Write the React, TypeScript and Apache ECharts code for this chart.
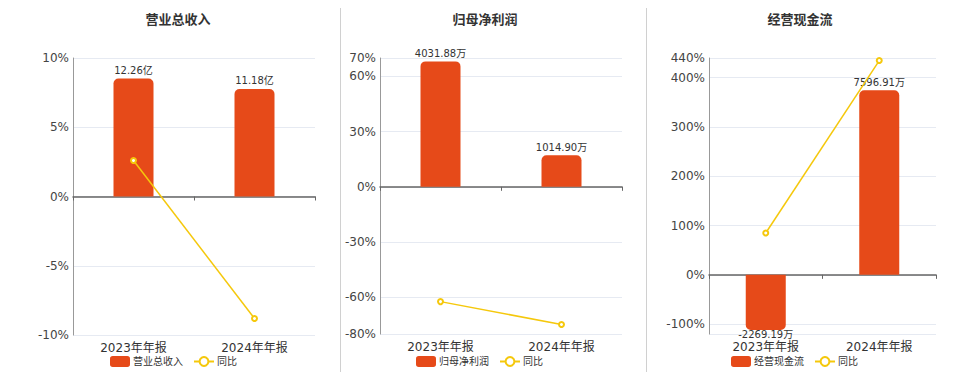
import React, { useEffect, useRef } from "react";
import * as echarts from "echarts";

const categories = ["2023年年报", "2024年年报"];
const titles = ["营业总收入", "归母净利润", "经营现金流"];
const revenueValues = [12.26, 11.18];
const revenueYoy = [2.6, -8.81];
const profitValues = [4031.88, 1014.9];
const profitYoy = [-62.4, -74.83];
const cashValues = [-2269.19, 7596.91];
const cashYoy = [85, 434.78];
const units = ["亿", "万", "万"];
const yoyName = "同比";
const pctTicks1 = [-10, -5, 0, 5, 10];
const pctTicks2 = [-80, -60, -30, 0, 30, 60, 70];
const pctTicks3 = [-120, -100, 0, 100, 200, 300, 400, 440];
const pctLabels3 = [-100, 0, 100, 200, 300, 400, 440];

const BAR = "#E64A19";
const LINE = "#F5C80C";
const FONT = "DejaVu Sans, Noto Sans CJK SC, sans-serif";

export default function App() {
  const ref = useRef<HTMLDivElement>(null);
  useEffect(() => {
    if (!ref.current) return;
    const chart = echarts.init(ref.current, undefined, { renderer: "svg" });

    const panels = [
      { vals: revenueValues, yoy: revenueYoy, barMax: 14.4, barMin: -14.4, pmin: -10, pmax: 10, ticks: pctTicks1, labels: pctTicks1, grid: { left: 73, right: 645, top: 58, bottom: 37 }, cx: 173, legendLeft: 110 },
      { vals: profitValues, yoy: profitYoy, barMax: 4141, barMin: -4733, pmin: -80, pmax: 70, ticks: pctTicks2, labels: pctTicks2, grid: { left: 380, right: 338, top: 58, bottom: 38 }, cx: 480, legendLeft: 416 },
      { vals: cashValues, yoy: cashYoy, barMax: 8930, barMin: -2436, pmin: -120, pmax: 440, ticks: pctTicks3, labels: pctLabels3, grid: { left: 709, right: 24, top: 58, bottom: 38 }, cx: 795, legendLeft: 731 },
    ];

    const grid: any[] = [];
    const xAxis: any[] = [];
    const yAxis: any[] = [];
    const series: any[] = [];
    const title: any[] = [];
    const legend: any[] = [];

    panels.forEach((p, i) => {
      grid.push({ ...p.grid, containLabel: false });
      // label axis at bottom
      xAxis.push({
        type: "category",
        gridIndex: i,
        data: categories,
        position: "bottom",
        axisLine: { show: false, onZero: false },
        axisTick: { show: false },
        axisLabel: { color: "#333", fontSize: 12, fontFamily: FONT, margin: 7, lineHeight: 12 },
      });
      // zero line axis
      xAxis.push({
        type: "category",
        gridIndex: i,
        data: categories,
        position: "top",
        axisLine: { show: true, onZero: true, lineStyle: { color: "#666", width: 1.5 } },
        axisTick: { show: true, inside: true, length: 4, lineStyle: { color: "#666" } },
        axisLabel: { show: false },
      });
      yAxis.push({
        type: "value",
        gridIndex: i,
        min: p.pmin,
        max: p.pmax,
        position: "left",
        axisLine: { show: true, lineStyle: { color: "#999", width: 1 } },
        axisTick: { show: false, customValues: p.ticks },
        axisLabel: {
          customValues: p.labels,
          formatter: "{value}%",
          color: "#444",
          fontSize: 12,
          fontFamily: FONT,
          margin: 4,
        },
        splitLine: { show: true, lineStyle: { color: "#E6EAF2", width: 1 } },
      });
      yAxis.push({
        type: "value",
        gridIndex: i,
        min: p.barMin,
        max: p.barMax,
        position: "right",
        show: false,
        splitLine: { show: false },
      });
      series.push({
        type: "bar",
        name: titles[i],
        xAxisIndex: i * 2,
        yAxisIndex: i * 2 + 1,
        barWidth: 40,
        itemStyle: { color: BAR },
        data: p.vals.map((v) => ({
          value: v,
          itemStyle: { color: BAR, borderRadius: v >= 0 ? [5, 5, 0, 0] : [0, 0, 5, 5] },
          label: v >= 0 ? { distance: 3 } : { distance: 0 },
        })),
        label: {
          show: true,
          position: "outside",
          distance: 3,
          color: "#333",
          fontSize: 10,
          lineHeight: 10,
          fontFamily: FONT,
          formatter: (d: any) => d.value.toFixed(2) + units[i],
        },
      });
      series.push({
        type: "line",
        name: yoyName,
        xAxisIndex: i * 2,
        yAxisIndex: i * 2,
        data: p.yoy,
        symbol: "emptyCircle",
        symbolSize: 5,
        itemStyle: { color: LINE, borderWidth: 1.5 },
        lineStyle: { color: LINE, width: 1.5 },
        z: 5,
      });
      title.push({
        text: titles[i],
        left: p.cx,
        textAlign: "center",
        top: 8,
        textStyle: { fontSize: 13, fontWeight: "bold", color: "#333", fontFamily: FONT },
      });
      legend.push({
        data: [{ name: titles[i], icon: "roundRect" }, yoyName],
        left: p.legendLeft,
        top: 356,
        itemWidth: 20,
        itemHeight: 11,
        itemGap: 10,
        textStyle: { fontSize: 10, lineHeight: 10, color: "#333", fontFamily: FONT, padding: [0, 0, 0, -2] },
        padding: 0,
      });
    });

    chart.setOption({
      animation: false,
      textStyle: { fontFamily: FONT },
      title,
      legend,
      grid,
      xAxis,
      yAxis,
      series,
      graphic: [
        { type: "line", shape: { x1: 340.5, y1: 8, x2: 340.5, y2: 372 }, style: { stroke: "#d0d0d0", lineWidth: 1 } },
        { type: "line", shape: { x1: 646.5, y1: 8, x2: 646.5, y2: 372 }, style: { stroke: "#d0d0d0", lineWidth: 1 } },
      ],
    });
    return () => chart.dispose();
  }, []);
  return (
    <div
      ref={ref}
      style={{ position: "fixed", left: 0, top: 0, width: 960, height: 372, background: "#fff" }}
    />
  );
}
